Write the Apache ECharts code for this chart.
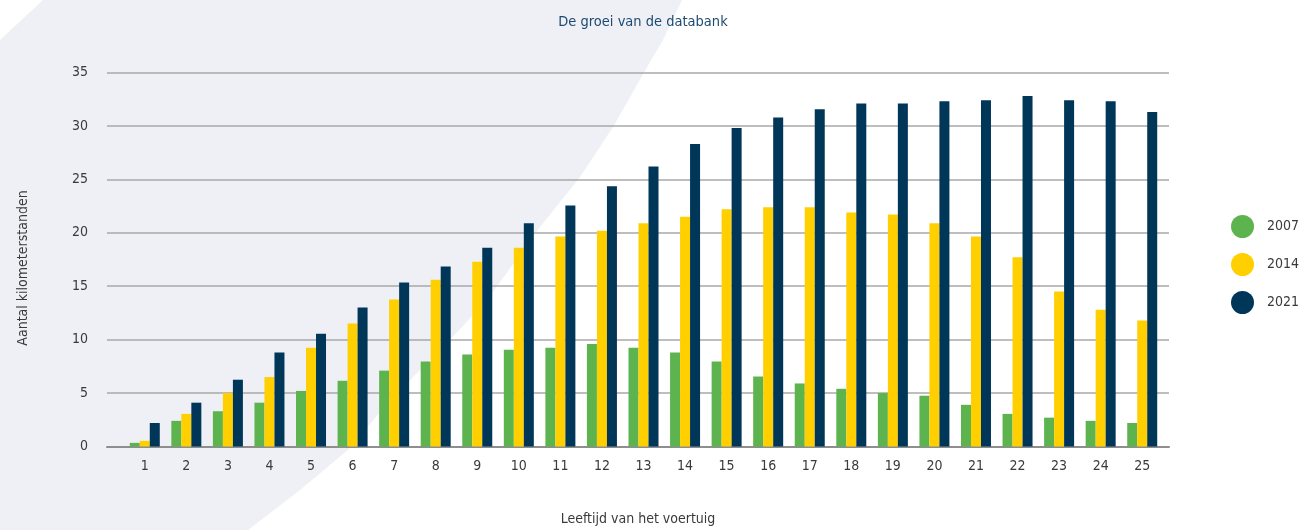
<!DOCTYPE html>
<html>
<head>
<meta charset="utf-8">
<script src="https://cdn.jsdelivr.net/npm/echarts@6/dist/echarts.min.js"></script>
<style>
  html, body { margin: 0; padding: 0; background: #fff; }
  #chart { width: 1299px; height: 530px; }
</style>
</head>
<body>
<div id="chart"></div>
<script>
var ages = ['1','2','3','4','5','6','7','8','9','10','11','12','13','14','15','16','17','18','19','20','21','22','23','24','25'];
var seriesNames = ['2007', '2014', '2021'];
var data2007 = [0.34, 2.4, 3.3, 4.1, 5.2, 6.15, 7.1, 7.95, 8.6, 9.05, 9.25, 9.6, 9.25, 8.8, 7.95, 6.55, 5.9, 5.4, 5.0, 4.75, 3.9, 3.05, 2.7, 2.4, 2.2];
var data2014 = [0.53, 3.05, 5.0, 6.5, 9.25, 11.5, 13.75, 15.6, 17.3, 18.6, 19.65, 20.2, 20.9, 21.5, 22.2, 22.4, 22.4, 21.9, 21.7, 20.9, 19.65, 17.7, 14.5, 12.8, 11.8];
var data2021 = [2.2, 4.1, 6.25, 8.8, 10.55, 13.0, 15.35, 16.85, 18.6, 20.9, 22.55, 24.35, 26.2, 28.3, 29.8, 30.8, 31.55, 32.1, 32.1, 32.3, 32.4, 32.8, 32.4, 32.3, 31.3];
var colors = ['#5db44e', '#ffcf00', '#003658'];

var font = "'Liberation Sans Narrow', 'DejaVu Sans Condensed', sans-serif";
var chart = echarts.init(document.getElementById('chart'));

var option = {
  animation: false,
  backgroundColor: '#ffffff',
  color: colors,
  textStyle: { fontFamily: font },
  graphic: [{
    // lichtgrijze achtergrondvorm links
    type: 'polygon',
    z: -10,
    silent: true,
    shape: {
      points: [[0, 40], [43, 0], [682, 0], [663, 40], [650, 62], [613, 127], [580, 177], [540, 227], [487, 300], [447, 343], [413, 377], [380, 412], [349, 449], [300, 490], [248, 530], [0, 530]]
    },
    style: { fill: '#eff0f5' }
  }, {
    type: 'text',
    x: 23,
    y: 268,
    rotation: Math.PI / 2,
    silent: true,
    style: {
      text: 'Aantal kilometerstanden',
      align: 'center',
      verticalAlign: 'middle',
      fill: '#3a3a3a',
      font: '14px ' + font
    }
  }],
  title: {
    text: 'De groei van de databank',
    left: 638,
    textAlign: 'center',
    top: 10,
    textStyle: { color: '#1d4a70', fontSize: 14.5, fontWeight: 'normal', fontFamily: font }
  },
  legend: {
    orient: 'vertical',
    left: 1226,
    top: 210,
    icon: 'circle',
    itemWidth: 23,
    itemHeight: 23,
    itemGap: 15,
    data: seriesNames,
    textStyle: { color: '#3a3a3a', fontSize: 14, fontFamily: font, padding: [0, 0, 0, 8] }
  },
  grid: [
    { left: 107, right: 130, top: 72.5, bottom: 83.5, outerBoundsMode: 'none', containLabel: false },
    { left: 124, right: 136, top: 72.5, bottom: 83.5, outerBoundsMode: 'none', containLabel: false }
  ],
  xAxis: [{
    gridIndex: 0,
    type: 'category',
    data: ages,
    axisLine: { show: true, lineStyle: { color: '#8e8e8e', width: 2 } },
    axisTick: { show: false },
    axisLabel: { show: false },
    name: 'Leeftijd van het voertuig',
    nameLocation: 'middle',
    nameGap: 66,
    nameTextStyle: { color: '#3a3a3a', fontSize: 14, fontFamily: font }
  }, {
    gridIndex: 1,
    type: 'category',
    data: ages,
    axisLine: { show: false },
    axisTick: { show: false },
    axisLabel: { color: '#3a3a3a', fontSize: 14, margin: 13, fontFamily: font }
  }],
  yAxis: [{
    gridIndex: 0,
    type: 'value',
    min: 0,
    max: 35,
    interval: 5,
    axisLine: { show: false },
    axisTick: { show: false },
    axisLabel: { color: '#3a3a3a', fontSize: 14, margin: 19, fontFamily: font },
    splitLine: { lineStyle: { color: '#a9a9a9', width: 1.5 } }
  }, {
    gridIndex: 1,
    type: 'value',
    min: 0,
    max: 35,
    interval: 5,
    show: false
  }],
  series: [{
    name: seriesNames[0], type: 'bar', xAxisIndex: 1, yAxisIndex: 1,
    data: data2007, barWidth: 10, barGap: '0%'
  }, {
    name: seriesNames[1], type: 'bar', xAxisIndex: 1, yAxisIndex: 1,
    data: data2014, barWidth: 10, barGap: '0%'
  }, {
    name: seriesNames[2], type: 'bar', xAxisIndex: 1, yAxisIndex: 1,
    data: data2021, barWidth: 10, barGap: '0%'
  }]
};
chart.setOption(option);
</script>
</body>
</html>
